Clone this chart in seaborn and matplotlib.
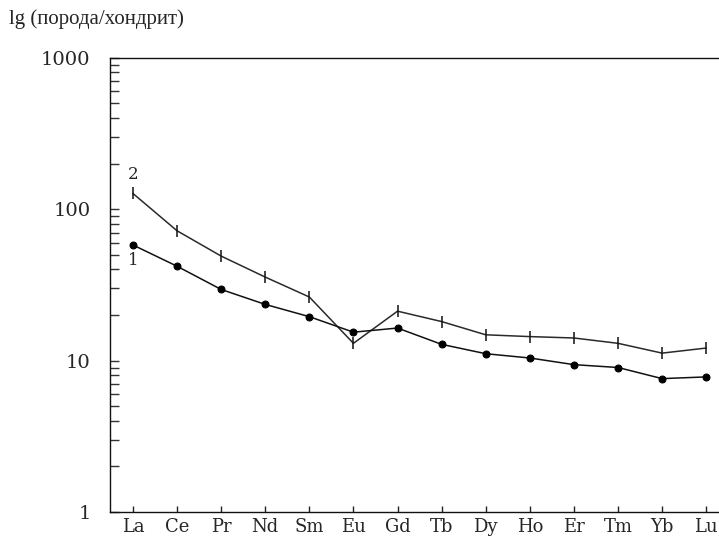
import matplotlib
matplotlib.use('Agg')
import matplotlib.pyplot as plt
import seaborn as sns
import pandas as pd
from matplotlib.ticker import LogLocator, NullFormatter, FixedLocator, FixedFormatter

# данные (нормировано на хондрит)
elements = ['La', 'Ce', 'Pr', 'Nd', 'Sm', 'Eu', 'Gd', 'Tb', 'Dy', 'Ho', 'Er', 'Tm', 'Yb', 'Lu']
series_1 = [58, 42, 29.5, 23.5, 19.5, 15.4, 16.4, 12.8, 11.1, 10.4, 9.4, 9.0, 7.6, 7.8]
series_2 = [127, 72, 49, 35.6, 26.3, 13.0, 21.2, 18.1, 14.8, 14.4, 14.1, 13.0, 11.2, 12.1]
y_ticks = [1, 10, 100, 1000]
y_label = 'lg (порода/хондрит)'

sns.set_style('ticks')
plt.rcParams['font.family'] = ['DejaVu Serif']

df1 = pd.DataFrame({'el': elements, 'val': series_1})
df2 = pd.DataFrame({'el': elements, 'val': series_2})

fig = plt.figure(figsize=(7.19, 5.42), dpi=100)
ax = fig.add_axes([0.153, 0.0554, 0.847, 0.838])

sns.lineplot(data=df2, x='el', y='val', ax=ax, color='#2a2a2a', linewidth=1.1,
             marker='|', markersize=9, markeredgewidth=1.1, markeredgecolor='#111111', sort=False)
sns.lineplot(data=df1, x='el', y='val', ax=ax, color='#111111', linewidth=1.1,
             marker='o', markersize=5, markeredgecolor='#000000', markerfacecolor='#000000', sort=False)

ax.set_yscale('log')
ax.set_ylim(1, 1000)
ax.set_xlim(-0.52, 13.29)

ax.yaxis.set_major_locator(FixedLocator(y_ticks))
ax.yaxis.set_major_formatter(FixedFormatter([str(t) for t in y_ticks]))
ax.yaxis.set_minor_locator(LogLocator(base=10, subs=range(2, 10)))
ax.yaxis.set_minor_formatter(NullFormatter())

ax.tick_params(axis='y', which='both', direction='in', length=6.5, width=1, color='#333333',
               labelsize=14, pad=14)
ax.tick_params(axis='x', which='major', direction='in', length=4, width=1, color='#222222',
               labelsize=13, pad=4)

for s in ['left', 'bottom', 'top']:
    ax.spines[s].set_linewidth(1)
    ax.spines[s].set_color('#111111')
ax.spines['right'].set_visible(False)

ax.set_xlabel('')
ax.set_ylabel('')

# подписи кривых
ax.text(0, 150, '2', ha='center', va='bottom', fontsize=12)
ax.text(0, 52, '1', ha='center', va='top', fontsize=12)

fig.text(0.012, 0.965, y_label, ha='left', va='center', fontsize=15,
         family=['Liberation Serif', 'DejaVu Serif'])

plt.savefig('out.png', dpi=100)
